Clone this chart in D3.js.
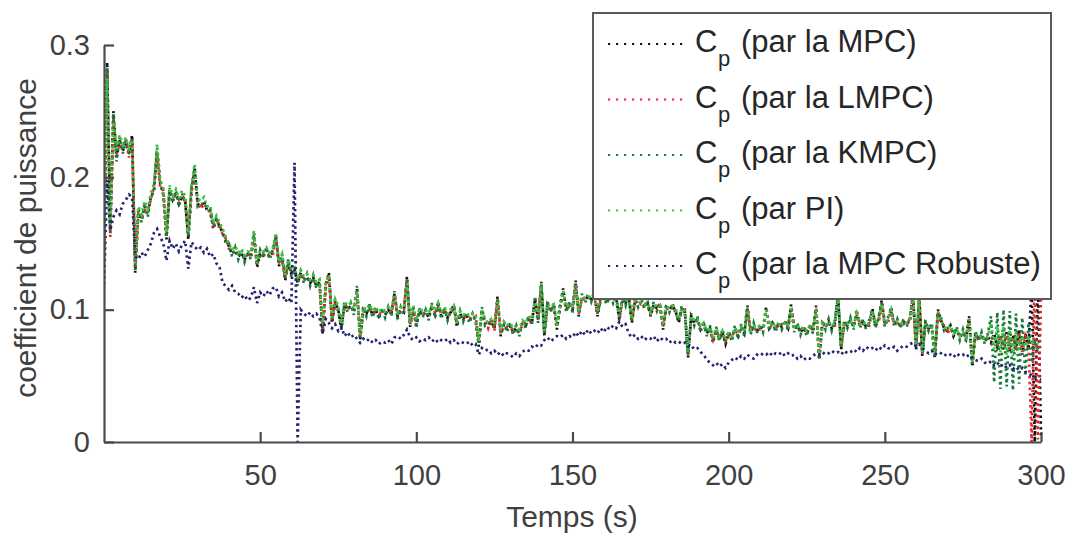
<!DOCTYPE html>
<html><head><meta charset="utf-8">
<script src="https://cdn.jsdelivr.net/npm/d3@7"></script>
<style>body{margin:0;background:#fff}svg{display:block}</style>
</head><body>
<script>
// ---------------- DATA ----------------
const time = d3.range(0, 301); // seconds, 1 s sampling
const yTicks = [0, 0.1, 0.2, 0.3];
const xTicks = [50, 100, 150, 200, 250, 300];
const seriesNames = ["MPC", "LMPC", "KMPC", "PI", "MPC Robuste"];
const legendLabels = ["(par la MPC)", "(par la LMPC)", "(par la KMPC)", "(par PI)", "(par la MPC Robuste)"];

const cpMPC = [
0.14,0.287,0.16,0.25,0.215,0.228,0.22,0.226,0.218,0.232,
0.128,0.175,0.168,0.178,0.172,0.185,0.19,0.222,0.195,0.188,
0.153,0.19,0.183,0.188,0.18,0.186,0.182,0.153,0.19,0.207,
0.18,0.178,0.182,0.175,0.176,0.161,0.168,0.163,0.158,0.152,
0.148,0.142,0.145,0.14,0.143,0.138,0.142,0.14,0.158,0.132,
0.143,0.141,0.145,0.14,0.143,0.157,0.133,0.14,0.122,0.136,
0.127,0.13,0.12,0.128,0.122,0.125,0.12,0.124,0.118,0.121,
0.082,0.118,0.128,0.09,0.106,0.1,0.085,0.104,0.1,0.103,
0.098,0.116,0.077,0.1,0.097,0.102,0.096,0.1,0.095,0.099,
0.096,0.1,0.097,0.112,0.095,0.1,0.098,0.125,0.087,0.101,
0.088,0.099,0.096,0.098,0.094,0.103,0.096,0.104,0.095,0.1,
0.094,0.098,0.104,0.087,0.097,0.093,0.096,0.092,0.095,0.093,
0.072,0.1,0.09,0.088,0.091,0.086,0.11,0.08,0.089,0.085,
0.088,0.083,0.086,0.082,0.09,0.088,0.094,0.09,0.108,0.092,
0.121,0.08,0.104,0.1,0.103,0.085,0.102,0.116,0.1,0.104,
0.1,0.122,0.095,0.11,0.107,0.11,0.108,0.112,0.095,0.108,
0.11,0.106,0.11,0.107,0.109,0.092,0.108,0.105,0.11,0.09,
0.107,0.104,0.106,0.103,0.105,0.095,0.104,0.101,0.103,0.085,
0.102,0.1,0.103,0.099,0.09,0.101,0.098,0.064,0.095,0.09,
0.093,0.085,0.089,0.082,0.086,0.075,0.085,0.078,0.083,0.074,
0.082,0.078,0.086,0.08,0.087,0.082,0.103,0.083,0.088,0.084,
0.087,0.085,0.102,0.086,0.09,0.085,0.089,0.087,0.09,0.086,
0.104,0.085,0.088,0.083,0.086,0.082,0.087,0.084,0.103,0.062,
0.09,0.087,0.091,0.086,0.09,0.112,0.07,0.09,0.088,0.092,
0.087,0.098,0.088,0.091,0.087,0.09,0.101,0.088,0.092,0.107,
0.089,0.092,0.102,0.089,0.091,0.088,0.091,0.089,0.092,0.112,
0.07,0.11,0.065,0.09,0.086,0.088,0.063,0.1,0.092,0.086,
0.084,0.088,0.08,0.085,0.079,0.083,0.078,0.095,0.057,0.082,
0.078,0.081,0.076,0.08,0.075,0.082,0.072,0.08,0.07,0.083,
0.068,0.081,0.07,0.085,0.066,0.082,0.07,0.12,0,0.125,
0.005];

const cpLMPC = [
0.15,0.28,0.155,0.245,0.218,0.225,0.223,0.229,0.215,0.23,
0.132,0.172,0.17,0.175,0.175,0.183,0.193,0.218,0.192,0.19,
0.156,0.187,0.185,0.186,0.183,0.184,0.185,0.156,0.188,0.204,
0.182,0.176,0.18,0.177,0.173,0.163,0.166,0.165,0.156,0.154,
0.146,0.144,0.143,0.142,0.141,0.14,0.14,0.142,0.156,0.134,
0.141,0.143,0.143,0.142,0.141,0.155,0.135,0.138,0.124,0.134,
0.129,0.128,0.122,0.126,0.124,0.123,0.122,0.122,0.12,0.119,
0.085,0.116,0.126,0.092,0.104,0.102,0.087,0.102,0.102,0.101,
0.1,0.114,0.079,0.098,0.099,0.1,0.098,0.098,0.097,0.097,
0.098,0.098,0.099,0.11,0.097,0.098,0.1,0.123,0.089,0.099,
0.09,0.097,0.098,0.096,0.096,0.101,0.098,0.102,0.097,0.098,
0.096,0.096,0.102,0.089,0.095,0.095,0.094,0.094,0.093,0.095,
0.075,0.098,0.092,0.086,0.093,0.084,0.108,0.082,0.087,0.087,
0.086,0.085,0.084,0.084,0.088,0.09,0.092,0.092,0.106,0.094,
0.119,0.082,0.102,0.102,0.101,0.087,0.1,0.114,0.102,0.102,
0.102,0.12,0.097,0.108,0.109,0.108,0.11,0.11,0.097,0.106,
0.108,0.108,0.108,0.109,0.107,0.094,0.106,0.107,0.108,0.092,
0.105,0.106,0.104,0.105,0.103,0.097,0.102,0.103,0.101,0.087,
0.1,0.102,0.101,0.101,0.092,0.099,0.1,0.066,0.093,0.092,
0.091,0.087,0.087,0.084,0.084,0.077,0.083,0.08,0.081,0.076,
0.08,0.08,0.084,0.082,0.085,0.084,0.101,0.085,0.086,0.086,
0.085,0.087,0.1,0.088,0.088,0.087,0.087,0.089,0.088,0.088,
0.102,0.087,0.086,0.085,0.084,0.084,0.085,0.086,0.101,0.064,
0.088,0.089,0.089,0.088,0.088,0.11,0.072,0.088,0.09,0.09,
0.089,0.096,0.09,0.089,0.089,0.088,0.099,0.09,0.09,0.105,
0.091,0.09,0.1,0.091,0.089,0.09,0.089,0.091,0.09,0.11,
0.072,0.108,0.067,0.088,0.088,0.086,0.065,0.098,0.09,0.088,
0.082,0.086,0.082,0.083,0.081,0.081,0.08,0.093,0.059,0.08,
0.08,0.079,0.078,0.078,0.077,0.08,0.074,0.078,0.072,0.081,
0.07,0.079,0.072,0.083,0.068,0.08,0.074,0.0,0.13,0.002,
0.11];

const cpKMPC = [
0.145,0.283,0.158,0.248,0.212,0.23,0.218,0.228,0.22,0.229,
0.13,0.177,0.166,0.18,0.17,0.187,0.188,0.22,0.197,0.186,
0.155,0.192,0.181,0.19,0.178,0.188,0.18,0.155,0.192,0.205,
0.178,0.18,0.18,0.177,0.174,0.163,0.17,0.161,0.16,0.15,
0.15,0.14,0.147,0.138,0.145,0.136,0.144,0.138,0.156,0.134,
0.145,0.139,0.147,0.138,0.145,0.155,0.135,0.142,0.124,0.138,
0.125,0.132,0.118,0.13,0.12,0.127,0.118,0.126,0.116,0.123,
0.084,0.12,0.126,0.092,0.108,0.098,0.087,0.106,0.098,0.105,
0.096,0.118,0.079,0.102,0.095,0.104,0.094,0.102,0.093,0.101,
0.094,0.102,0.095,0.114,0.093,0.102,0.096,0.123,0.089,0.103,
0.086,0.101,0.094,0.1,0.092,0.105,0.094,0.106,0.093,0.102,
0.092,0.1,0.102,0.089,0.099,0.091,0.098,0.09,0.097,0.091,
0.074,0.102,0.088,0.09,0.089,0.088,0.108,0.082,0.091,0.083,
0.09,0.081,0.088,0.08,0.092,0.086,0.096,0.088,0.11,0.09,
0.119,0.082,0.106,0.098,0.105,0.087,0.104,0.114,0.098,0.106,
0.098,0.12,0.097,0.112,0.105,0.112,0.106,0.114,0.097,0.11,
0.108,0.104,0.112,0.105,0.111,0.094,0.11,0.103,0.112,0.092,
0.109,0.102,0.108,0.101,0.107,0.097,0.106,0.099,0.105,0.087,
0.104,0.098,0.105,0.097,0.092,0.103,0.096,0.066,0.097,0.088,
0.095,0.083,0.091,0.08,0.088,0.077,0.087,0.076,0.085,0.076,
0.084,0.076,0.088,0.078,0.089,0.08,0.101,0.081,0.09,0.082,
0.089,0.083,0.1,0.084,0.092,0.083,0.091,0.085,0.092,0.084,
0.102,0.083,0.09,0.081,0.088,0.08,0.089,0.082,0.101,0.064,
0.092,0.085,0.093,0.084,0.092,0.11,0.072,0.092,0.086,0.094,
0.085,0.1,0.086,0.093,0.085,0.092,0.099,0.086,0.094,0.105,
0.087,0.094,0.1,0.087,0.093,0.086,0.093,0.087,0.094,0.11,
0.072,0.108,0.067,0.092,0.084,0.09,0.065,0.098,0.094,0.084,
0.086,0.086,0.082,0.087,0.077,0.085,0.076,0.093,0.059,0.084,
0.076,0.083,0.074,0.082,0.095,0.045,0.098,0.04,0.1,0.042,
0.099,0.039,0.097,0.044,0.094,0.05,0.09,0.06,0.075,0.07,
0.072];

const cpPI = [
0.155,0.275,0.165,0.242,0.22,0.232,0.225,0.23,0.222,0.228,
0.135,0.178,0.172,0.182,0.176,0.188,0.195,0.225,0.198,0.192,
0.158,0.194,0.186,0.191,0.184,0.19,0.186,0.158,0.194,0.21,
0.184,0.182,0.185,0.178,0.179,0.165,0.171,0.166,0.161,0.155,
0.15,0.145,0.148,0.143,0.146,0.141,0.144,0.143,0.16,0.135,
0.145,0.144,0.147,0.143,0.146,0.158,0.136,0.142,0.126,0.138,
0.13,0.132,0.123,0.13,0.125,0.127,0.123,0.126,0.121,0.123,
0.088,0.12,0.126,0.094,0.108,0.103,0.089,0.106,0.103,0.105,
0.101,0.114,0.081,0.102,0.1,0.104,0.099,0.102,0.098,0.101,
0.099,0.102,0.1,0.11,0.098,0.102,0.101,0.12,0.09,0.103,
0.092,0.101,0.099,0.1,0.097,0.104,0.099,0.105,0.098,0.102,
0.097,0.1,0.103,0.09,0.099,0.096,0.098,0.095,0.097,0.096,
0.076,0.1,0.093,0.09,0.093,0.089,0.106,0.084,0.091,0.088,
0.09,0.086,0.088,0.085,0.092,0.09,0.095,0.093,0.106,0.095,
0.118,0.084,0.104,0.102,0.104,0.088,0.103,0.114,0.102,0.105,
0.102,0.118,0.098,0.11,0.108,0.11,0.109,0.112,0.098,0.109,
0.11,0.107,0.11,0.108,0.109,0.095,0.108,0.106,0.11,0.093,
0.107,0.105,0.106,0.104,0.105,0.098,0.104,0.102,0.103,0.088,
0.102,0.101,0.103,0.1,0.093,0.101,0.099,0.068,0.095,0.092,
0.093,0.087,0.09,0.084,0.087,0.078,0.086,0.08,0.084,0.077,
0.083,0.08,0.086,0.082,0.087,0.084,0.1,0.085,0.088,0.086,
0.088,0.087,0.1,0.088,0.09,0.087,0.089,0.088,0.09,0.088,
0.101,0.087,0.088,0.085,0.087,0.084,0.087,0.086,0.1,0.066,
0.09,0.088,0.091,0.088,0.09,0.108,0.073,0.09,0.089,0.092,
0.088,0.097,0.089,0.091,0.088,0.09,0.099,0.089,0.092,0.104,
0.09,0.092,0.1,0.09,0.091,0.089,0.091,0.09,0.092,0.108,
0.073,0.107,0.068,0.09,0.087,0.088,0.066,0.098,0.092,0.087,
0.085,0.088,0.082,0.085,0.08,0.083,0.079,0.093,0.06,0.082,
0.079,0.081,0.077,0.08,0.09,0.07,0.088,0.068,0.087,0.066,
0.085,0.065,0.083,0.07,0.08,0.072,0.078,0.075,0.076,0.074,
0.074];

const cpRobust = [
0.118,0.198,0.16,0.17,0.175,0.172,0.18,0.183,0.187,0.185,
0.14,0.138,0.143,0.14,0.145,0.15,0.158,0.161,0.155,0.15,
0.137,0.152,0.146,0.15,0.144,0.149,0.152,0.131,0.151,0.148,
0.145,0.147,0.143,0.146,0.14,0.142,0.135,0.132,0.12,0.118,
0.115,0.118,0.113,0.112,0.109,0.111,0.107,0.109,0.117,0.105,
0.113,0.11,0.114,0.111,0.116,0.117,0.11,0.113,0.106,0.109,
0.105,0.211,0.0,0.1,0.097,0.095,0.098,0.095,0.097,0.094,
0.082,0.093,0.09,0.086,0.089,0.084,0.087,0.08,0.083,0.079,
0.081,0.078,0.075,0.078,0.076,0.078,0.075,0.077,0.074,0.076,
0.075,0.077,0.074,0.079,0.08,0.078,0.081,0.085,0.079,0.077,
0.079,0.076,0.078,0.077,0.079,0.076,0.078,0.075,0.077,0.076,
0.078,0.075,0.077,0.074,0.076,0.075,0.074,0.076,0.073,0.074,
0.066,0.071,0.069,0.07,0.067,0.069,0.066,0.068,0.065,0.067,
0.066,0.064,0.067,0.065,0.068,0.07,0.069,0.072,0.071,0.074,
0.073,0.077,0.079,0.076,0.078,0.08,0.079,0.081,0.078,0.08,
0.079,0.083,0.08,0.084,0.081,0.085,0.082,0.084,0.082,0.086,
0.083,0.087,0.085,0.088,0.086,0.091,0.087,0.089,0.082,0.079,
0.081,0.078,0.08,0.077,0.079,0.078,0.08,0.076,0.079,0.077,
0.078,0.075,0.077,0.075,0.076,0.074,0.075,0.072,0.073,0.07,
0.071,0.068,0.066,0.062,0.06,0.058,0.06,0.057,0.059,0.056,
0.06,0.062,0.064,0.062,0.065,0.063,0.066,0.064,0.063,0.066,
0.065,0.067,0.066,0.068,0.065,0.067,0.066,0.068,0.065,0.067,
0.065,0.066,0.063,0.065,0.062,0.064,0.063,0.065,0.067,0.066,
0.068,0.066,0.067,0.069,0.067,0.068,0.066,0.069,0.067,0.068,
0.07,0.068,0.071,0.069,0.072,0.07,0.071,0.069,0.072,0.07,
0.073,0.071,0.07,0.072,0.069,0.071,0.073,0.072,0.074,0.075,
0.072,0.074,0.071,0.069,0.067,0.069,0.066,0.068,0.067,0.065,
0.067,0.066,0.064,0.067,0.065,0.066,0.064,0.066,0.063,0.062,
0.061,0.063,0.06,0.059,0.061,0.058,0.06,0.057,0.059,0.056,
0.058,0.055,0.057,0.054,0.056,0.053,0.052,0.05,0.049,0.048,
0.047];

const seriesValues = [cpMPC, cpLMPC, cpKMPC, cpPI, cpRobust];
const seriesColors = ["#111111", "#e3262b", "#1b7a3e", "#3fc33f", "#23236f"];

// ---------------- CHART ----------------
const W = 1069, H = 533;
const M = {left: 104, right: 1041, top: 45, bottom: 442};
const txt = "#404040", axc = "#4a4a4a";
const FONT = "'Liberation Sans', Arial, Helvetica, sans-serif";

const svg = d3.select("body").append("svg").attr("width", W).attr("height", H)
  .style("font-family", FONT);

const x = d3.scaleLinear().domain([0, 300]).range([M.left, M.right]);
const y = d3.scaleLinear().domain([0, 0.3]).range([M.bottom, M.top]);

svg.append("clipPath").attr("id", "clip").append("rect")
  .attr("x", M.left).attr("y", M.top - 2).attr("width", M.right - M.left + 2).attr("height", M.bottom - M.top + 4);

const line = d3.line().x((d, i) => x(time[i])).y(d => y(d));

const g = svg.append("g").attr("clip-path", "url(#clip)");
seriesValues.forEach((vals, k) => {
  g.append("path").datum(vals)
    .attr("d", line)
    .attr("fill", "none")
    .attr("stroke", seriesColors[k])
    .attr("stroke-width", 2.7)
    .attr("stroke-dasharray", "2.4,3.4")
    .attr("stroke-dashoffset", k * 1.1);
});

// axes
const xAxis = d3.axisBottom(x).tickValues(xTicks).tickSize(-10).tickSizeOuter(0).tickPadding(22)
  .tickFormat(d3.format("d"));
const yAxis = d3.axisLeft(y).tickValues(yTicks).tickSize(-10).tickSizeOuter(0).tickPadding(14)
  .tickFormat(d => d === 0 ? "0" : d3.format(".1f")(d));

const gx = svg.append("g").attr("transform", `translate(0,${M.bottom})`).call(xAxis);
const gy = svg.append("g").attr("transform", `translate(${M.left},0)`).call(yAxis);
[gx, gy].forEach(a => {
  a.selectAll("path.domain").attr("stroke", axc).attr("stroke-width", 2.2);
  a.selectAll(".tick line").attr("stroke", axc).attr("stroke-width", 2.2);
  a.selectAll(".tick text").attr("fill", txt).style("font-size", "29px").style("font-family", FONT);
});

// axis titles
svg.append("text").attr("x", 572).attr("y", 527).attr("text-anchor", "middle")
  .attr("fill", txt).style("font-size", "30px").text("Temps (s)");
svg.append("text").attr("transform", "translate(36,238) rotate(-90)").attr("text-anchor", "middle")
  .attr("fill", txt).style("font-size", "30px").text("coefficient de puissance");

// legend
const lg = svg.append("g");
lg.append("rect").attr("x", 593).attr("y", 13).attr("width", 458).attr("height", 286)
  .attr("fill", "#fff").attr("stroke", "#5a5a5a").attr("stroke-width", 2);
seriesNames.forEach((name, i) => {
  const base = 52 + i * 55.5;
  lg.append("line").attr("x1", 608).attr("x2", 683).attr("y1", base - 8).attr("y2", base - 8)
    .attr("stroke", seriesColors[i]).attr("stroke-width", 2.2).attr("stroke-dasharray", "2.2,5.8");
  const t = lg.append("text").attr("x", 695).attr("y", base).attr("fill", "#262626").style("font-size", "31px");
  t.append("tspan").text("C");
  t.append("tspan").attr("x", 718).attr("dy", 14).style("font-size", "22px").text("p");
  t.append("tspan").attr("x", 741).attr("dy", -14).text(legendLabels[i]);
});
</script>
</body></html>
